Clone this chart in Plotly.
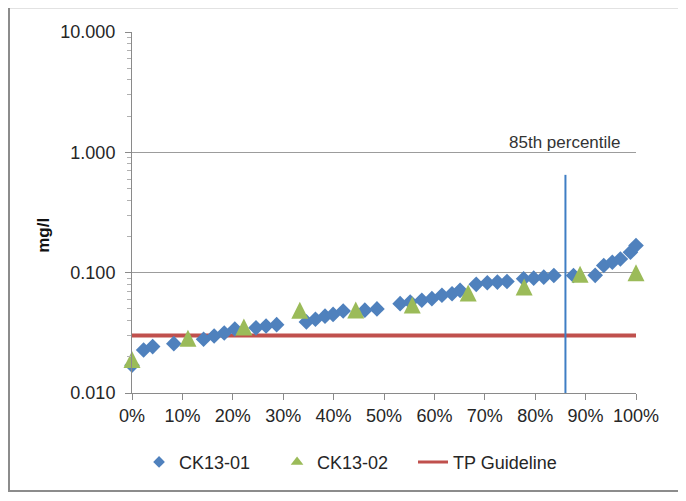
import plotly.graph_objects as go

# ---- data ----
ck1301_pct = [0.0, 2.3, 4.1, 8.3, 14.2, 16.3, 18.3, 20.4, 24.6, 26.6, 28.7, 34.6, 36.4, 38.3,
              39.9, 41.9, 46.2, 48.6, 53.2, 55.2, 57.5, 59.5, 61.5, 63.5, 65.1, 68.3, 70.5,
              72.5, 74.4, 77.7, 79.7, 81.7, 83.7, 87.6, 91.9, 93.6, 95.3, 96.9, 98.9, 100.0]
ck1301_val = [0.017, 0.0228, 0.0243, 0.0257, 0.028, 0.0298, 0.0315, 0.034, 0.0348, 0.036,
              0.037, 0.039, 0.041, 0.0435, 0.045, 0.048, 0.0488, 0.050, 0.0553, 0.057, 0.059,
              0.0608, 0.065, 0.0668, 0.0713, 0.080, 0.0824, 0.0835, 0.0845, 0.0889, 0.090,
              0.0918, 0.0948, 0.0948, 0.095, 0.1146, 0.122, 0.130, 0.1476, 0.168]

ck1302_pct = [0.0, 11.1, 22.2, 33.3, 44.4, 55.6, 66.7, 77.8, 88.9, 100.0]
ck1302_val = [0.019, 0.0285, 0.0355, 0.0488, 0.049, 0.054, 0.068, 0.076, 0.097, 0.100]

tp_guideline = 0.03
tp_range = [0.0, 1.0]
p85_pct = 86.0
p85_line_y = [0.01, 0.65]

y_tickvals = [0.01, 0.1, 1, 10]
y_ticktext = ["0.010", "0.100", "1.000", "10.000"]
x_tickvals = [i / 10 for i in range(11)]
x_ticktext = [f"{i * 10}%" for i in range(11)]

# ---- styling ----
BLUE = "#4f81bd"
GREEN = "#9bbb59"
RED = "#c0504d"
GRID = "#9c9c9c"
AX = "#8a8a8a"
TXT = "#262626"
TICKFONT = dict(family="Liberation Sans, Arial", size=18, color=TXT)
LEGFONT = dict(family="Liberation Sans, Arial", size=18, color=TXT)

OFF = 8  # the page body margin
FIG_W, FIG_H = 686 - 2 * OFF, 501 - 2 * OFF
PLOT_L, PLOT_T, PLOT_W, PLOT_H = 132 - OFF, 32 - OFF, 504, 365
DECADE_PX = PLOT_H / 3.0
TRI_SIZE = 17
tri_shift = (TRI_SIZE / 2) / DECADE_PX  # centre the arrow-shaped triangle on its value


def px_x(page_x):
    return (page_x - OFF - PLOT_L) / PLOT_W


def px_y(page_y):
    return (PLOT_T + PLOT_H - (page_y - OFF)) / PLOT_H


fig = go.Figure()

# TP guideline
fig.add_trace(go.Scatter(
    x=tp_range, y=[tp_guideline] * len(tp_range), mode="lines",
    line=dict(color=RED, width=4), showlegend=False, cliponaxis=False))

# 85th percentile line
fig.add_trace(go.Scatter(
    x=[p85_pct / 100] * 2, y=p85_line_y, mode="lines",
    line=dict(color="#3f7ec4", width=2), showlegend=False))

# CK13-01 diamonds
fig.add_trace(go.Scatter(
    x=[p / 100 for p in ck1301_pct], y=ck1301_val, mode="markers",
    marker=dict(symbol="diamond", size=12, color=BLUE, line=dict(width=0)),
    showlegend=False, cliponaxis=False))

# CK13-02 triangles (on a helper axis offset by half a marker so the triangle is centred)
fig.add_trace(go.Scatter(
    x=[p / 100 for p in ck1302_pct], y=ck1302_val, mode="markers", yaxis="y2",
    marker=dict(symbol="arrow-up", size=TRI_SIZE, color=GREEN, line=dict(width=0)),
    showlegend=False, cliponaxis=False))

# legend entries
fig.add_trace(go.Scatter(x=[None], y=[None], mode="markers", name="CK13-01", legend="legend",
                         marker=dict(symbol="diamond", size=9, color=BLUE)))
fig.add_trace(go.Scatter(x=[None], y=[None], mode="markers", name="CK13-02", legend="legend",
                         marker=dict(symbol="triangle-up", size=11, color=GREEN)))
fig.add_trace(go.Scatter(x=[None], y=[None], mode="lines", name="TP Guideline", legend="legend2",
                         line=dict(color=RED, width=3)))

fig.update_layout(
    width=FIG_W, height=FIG_H,
    margin=dict(l=PLOT_L, r=FIG_W - PLOT_L - PLOT_W, t=PLOT_T, b=FIG_H - PLOT_T - PLOT_H, pad=0),
    paper_bgcolor="white", plot_bgcolor="white",
    font=dict(family="Liberation Sans, Arial", color=TXT),
    xaxis=dict(range=[0, 1], tickvals=x_tickvals, ticktext=x_ticktext,
               showgrid=False, zeroline=False, showline=True, linecolor=AX, linewidth=1,
               ticks="outside", ticklen=6, tickcolor=AX, tickfont=TICKFONT),
    yaxis=dict(type="log", range=[-2, 1], tickvals=y_tickvals, ticktext=y_ticktext,
               showgrid=True, gridcolor=GRID, gridwidth=1, zeroline=False,
               showline=True, linecolor=AX, linewidth=1,
               ticks="outside", ticklen=6, tickcolor=AX, tickfont=TICKFONT,
               ticklabelstandoff=6,
               minor=dict(ticks="outside", ticklen=4, tickcolor="#b0b0b0", showgrid=False,
                          tickvals=[m * 10 ** e for e in (-2, -1, 0) for m in range(2, 10)])),
    yaxis2=dict(type="log", range=[-2 - tri_shift, 1 - tri_shift], overlaying="y",
                visible=False, showgrid=False),
    legend=dict(orientation="h", x=0.014, xanchor="left", y=px_y(467), yanchor="middle",
                font=LEGFONT, entrywidth=93, entrywidthmode="pixels",
                bgcolor="rgba(0,0,0,0)"),
    legend2=dict(orientation="h", x=px_x(413), xanchor="left", y=px_y(467), yanchor="middle",
                 font=LEGFONT, bgcolor="rgba(0,0,0,0)"),
    annotations=[
        dict(text="<b>mg/l</b>", xref="paper", yref="paper", x=px_x(44),
             y=px_y(238), textangle=-90, showarrow=False,
             font=dict(family="Liberation Sans, Arial", size=17, color="#111"),
             xanchor="center", yanchor="middle"),
        dict(text="85th percentile", xref="x", yref="y", x=p85_pct / 100, y=0,
             xanchor="center", yanchor="bottom", showarrow=False, yshift=-2,
             font=dict(family="Liberation Sans, Arial", size=17, color="#333")),
    ],
    shapes=[dict(type="rect", xref="paper", yref="paper",
                 x0=px_x(9), x1=px_x(680), y0=px_y(496), y1=px_y(7),
                 line=dict(color="#8c8c8c", width=2), fillcolor="rgba(0,0,0,0)", layer="below")],
)

fig.write_html("out.html")
